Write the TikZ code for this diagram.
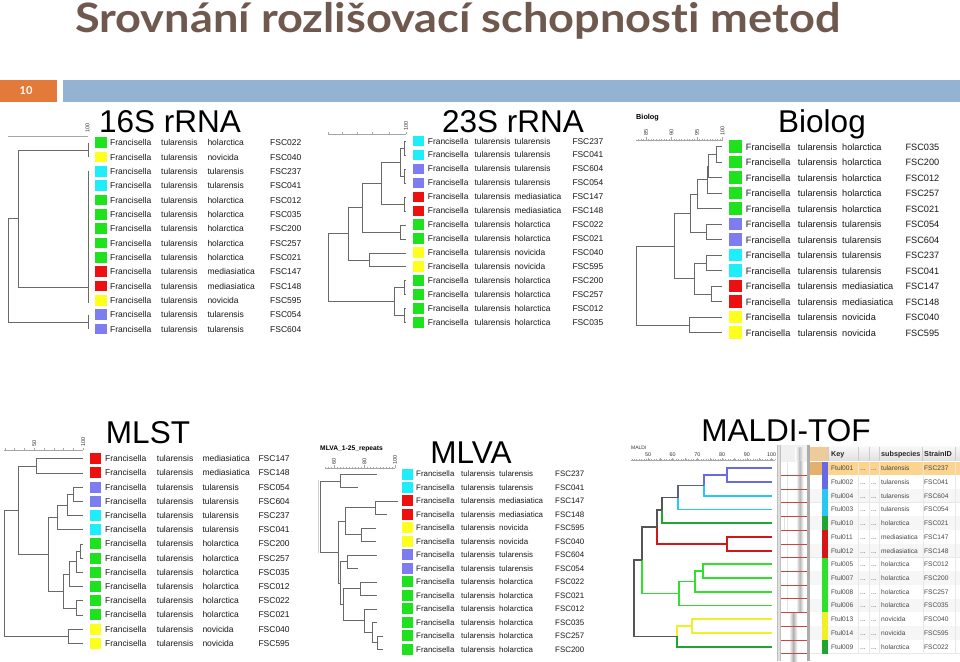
\documentclass[tikz,border=0pt]{standalone}
\usepackage{fontspec}
\setmainfont{Liberation Sans}
\newfontfamily\titlef{Lato}[Ligatures=NoCommon]
\usepackage{graphicx}
\definecolor{colg}{RGB}{30,226,30}
\definecolor{coly}{RGB}{255,255,30}
\definecolor{colc}{RGB}{30,238,250}
\definecolor{colb}{RGB}{125,125,240}
\definecolor{colr}{RGB}{236,16,16}
\definecolor{mtblue}{RGB}{105,105,228}
\definecolor{mtcyan}{RGB}{40,200,245}
\definecolor{mtgreen}{RGB}{45,225,45}
\definecolor{mtgtwo}{RGB}{30,165,50}
\definecolor{mtred}{RGB}{212,22,22}
\definecolor{mtyel}{RGB}{240,240,40}
\definecolor{mtgray}{RGB}{85,85,85}
\definecolor{titlec}{RGB}{111,89,78}
\definecolor{numbox}{RGB}{228,122,58}
\definecolor{barc}{RGB}{148,179,211}
\definecolor{txt}{RGB}{25,25,25}
\definecolor{ttxt}{RGB}{70,70,70}
\definecolor{treec}{RGB}{105,105,105}
\definecolor{gelred}{RGB}{200,70,70}
\definecolor{tanhead}{RGB}{238,203,155}
\definecolor{hlrow}{RGB}{251,212,142}
\definecolor{hlleft}{RGB}{228,176,108}
\newcommand\fsz[1]{\fontsize{#1}{#1}\selectfont}
\newcommand\jn[6][]{\draw[tline,#1] (#4,#3) -- (#2,#3) -- (#2,#5) -- (#6,#5);}
\newcommand\panelrows[2]{%
  \foreach \c/\s/\f [count=\i from 0] in {#2}{%
    \pgfmathsetmacro\yy{\Ry+\i*\Rd}%
    \pgfmathsetmacro\yb{\yy+0.36*\Fs}%
    \fill[col\c] (\SQx,\yy-\SQh/2) rectangle ++(\SQw,\SQh);
    \node[lbl,anchor=base west] (#1-\i-a) at (\Ca,\yb) {Francisella};
    \node[lbl,anchor=base west] (#1-\i-b) at (\Cb,\yb) {tularensis};
    \node[lbl,anchor=base west] (#1-\i-c) at (\Cc,\yb) {\s};
    \node[lbl,anchor=base west] (#1-\i-d) at (\Cd,\yb) {\f};
  }}
\tikzset{
  lbl/.style={font=\fsz{\Fs}, inner sep=0pt, text=txt},
  tline/.style={draw=treec, line width=0.6pt},
  mline/.style={line width=1.8pt},
  sline/.style={draw=gray!70, line width=0.5pt},
  slab/.style={font=\fsz{5.5}, inner sep=0pt, rotate=90, anchor=west, text=black!80},
  head/.style={font=\fsz{31.5}, inner sep=0pt, anchor=base, text=black},
  tcell/.style={font=\fsz{6.6}, inner sep=0pt, anchor=base west, text=ttxt},
  thead/.style={font=\fsz{7.2}\bfseries, inner sep=0pt, anchor=base west, text=black!85},
}
\begin{document}
\begin{tikzpicture}[x=1pt,y=-1pt]
\useasboundingbox (0,0) rectangle (960,661);
\fill[white] (0,0) rectangle (960,661);

% ---------- header ----------
\node[anchor=base west, inner sep=0pt, text=titlec, font=\titlef\bfseries\fsz{40.5}] (title) at (75,32.5)
  {\resizebox{765pt}{\height}{Srovnání rozlišovací schopnost\kern0pt{}i metod}};
\fill[numbox] (0,80) rectangle (57,102);
\node[font=\titlef\bfseries\fsz{11}, text=white, inner sep=0pt] (num) at (26,91) {10};
\fill[barc] (63,80) rectangle (960,102);

% ---------- headings ----------
\node[head] (h16) at (170,132) {16S rRNA};
\node[head] (h23) at (513,132) {23S rRNA};
\node[head] (hbi) at (822,132) {Biolog};
\node[head] (hml) at (148,443) {MLST};
\node[head] (hmv) at (471,463) {MLVA};
\node[head] (hma) at (786,441.7) {MALDI-TOF};

% ---------- 16S ----------
\def\SQx{95}\def\SQw{11.5}\def\SQh{10.7}\def\Ry{142.7}\def\Rd{14.33}
\def\Ca{110}\def\Cb{161}\def\Cc{207.3}\def\Cd{270}\def\Fs{8.5}
\panelrows{A}{g/holarctica/FSC022, y/novicida/FSC040, c/tularensis/FSC237, c/tularensis/FSC041,
 g/holarctica/FSC012, g/holarctica/FSC035, g/holarctica/FSC200, g/holarctica/FSC257, g/holarctica/FSC021,
 r/mediasiatica/FSC147, r/mediasiatica/FSC148, y/novicida/FSC595, b/tularensis/FSC054, b/tularensis/FSC604}
\draw[sline] (8,136) -- (88,136);
\node[slab] (s16) at (87.5,132.5) {100};
\draw[tline] (88,142.7) -- (88,157.0);
\draw[tline] (88,170.5) -- (88,303);
\draw[tline] (88,314.7) -- (88,329.0);
\jn{18.3}{149.9}{88}{287}{88}
\jn{8.3}{218.5}{18.3}{321.9}{88}

% ---------- 23S ----------
\def\SQx{413.3}\def\SQw{10.7}\def\SQh{10.7}\def\Ry{141}\def\Rd{13.97}
\def\Ca{427.7}\def\Cb{474.3}\def\Cc{514.3}\def\Cd{572.3}\def\Fs{8.4}
\panelrows{B}{c/tularensis/FSC237, c/tularensis/FSC041, b/tularensis/FSC604, b/tularensis/FSC054,
 r/mediasiatica/FSC147, r/mediasiatica/FSC148, g/holarctica/FSC022, g/holarctica/FSC021,
 y/novicida/FSC040, y/novicida/FSC595, g/holarctica/FSC200, g/holarctica/FSC257, g/holarctica/FSC012, g/holarctica/FSC035}
\draw[sline] (328,134) -- (406,134);
\foreach \t in {328,342,357,372.7,389,406} \draw[sline] (\t,134) -- ++(0,-1.8);
\node[slab] (s23) at (406,130.5) {100};
\jn{404}{141.0}{406}{155.0}{406}
\jn{404}{168.9}{406}{182.9}{406}
\jn{400.3}{148}{404}{175.9}{404}
\jn{404}{196.9}{406}{210.9}{406}
\jn{381.3}{162}{400.3}{203.9}{404}
\jn{400.3}{224.8}{406}{238.8}{406}
\jn{362}{183}{381.3}{231.8}{400.3}
\jn{369.7}{252.8}{406}{266.7}{406}
\jn{348.7}{207.4}{362}{259.8}{369.7}
\jn{404}{280.7}{406}{294.7}{406}
\jn{404}{308.6}{406}{322.6}{406}
\jn{394.7}{287.7}{404}{315.6}{404}
\jn{328}{233.6}{348.7}{301.7}{394.7}

% ---------- Biolog ----------
\def\SQx{729.3}\def\SQw{12.4}\def\SQh{12.5}\def\Ry{146.7}\def\Rd{15.5}
\def\Ca{745.7}\def\Cb{797.7}\def\Cc{842}\def\Cd{905.3}\def\Fs{9.2}
\panelrows{C}{g/holarctica/FSC035, g/holarctica/FSC200, g/holarctica/FSC012, g/holarctica/FSC257, g/holarctica/FSC021,
 b/tularensis/FSC054, b/tularensis/FSC604, c/tularensis/FSC237, c/tularensis/FSC041,
 r/mediasiatica/FSC147, r/mediasiatica/FSC148, y/novicida/FSC040, y/novicida/FSC595}
\node[font=\fsz{7.3}\bfseries, inner sep=0pt, anchor=base west] (lbi) at (636,119.5) {Biolog};
\draw[sline] (636,140) -- (722.5,140);
\foreach \k in {0,...,33} \draw[sline] ({722.5-\k*2.55},140) -- ++(0,-1.5);
\foreach \v/\xx in {85/646,90/671.5,95/697,100/722.5} {
  \draw[sline] (\xx,140) -- ++(0,-3);
  \node[slab] at (\xx,136) {\v};}
\jn{716.7}{146.7}{721.7}{162.2}{721.7}
\jn{708.5}{154.5}{716.7}{177.7}{721.7}
\jn{707.2}{166.1}{708.5}{193.2}{721.7}
\jn{697.3}{179.7}{707.2}{208.7}{721.7}
\jn{706}{224.2}{721.7}{239.7}{721.7}
\jn{690.7}{194.2}{697.3}{232}{706}
\jn{706}{255.2}{721.7}{270.7}{721.7}
\jn{711}{286.2}{721.7}{301.7}{721.7}
\jn{694.3}{263}{706}{294}{711}
\jn{674.3}{213.1}{690.7}{278.5}{694.3}
\jn{689}{317.2}{721.7}{332.7}{721.7}
\jn{636}{245.8}{674.3}{325}{689}

% ---------- MLST ----------
\def\SQx{90}\def\SQw{11}\def\SQh{11}\def\Ry{458.7}\def\Rd{14.2}
\def\Ca{105}\def\Cb{156.7}\def\Cc{202.3}\def\Cd{258.3}\def\Fs{8.5}
\panelrows{D}{r/mediasiatica/FSC147, r/mediasiatica/FSC148, b/tularensis/FSC054, b/tularensis/FSC604,
 c/tularensis/FSC237, c/tularensis/FSC041, g/holarctica/FSC200, g/holarctica/FSC257, g/holarctica/FSC035,
 g/holarctica/FSC012, g/holarctica/FSC022, g/holarctica/FSC021, y/novicida/FSC040, y/novicida/FSC595}
\draw[sline] (4,450) -- (83.3,450);
\foreach \k in {0,...,8} \draw[sline] ({83.3-\k*9.8},450) -- ++(0,-2);
\node[slab] (s50) at (34.3,446.5) {50};
\node[slab] (s100) at (83.3,446.5) {100};
\jn{36}{458.7}{82.7}{472.9}{82.7}
\jn{73.3}{487.1}{82.7}{501.3}{82.7}
\jn{67.3}{494.2}{73.3}{515.5}{82.7}
\jn{57.7}{504.9}{67.3}{529.7}{82.7}
\jn{80}{543.9}{82.7}{558.1}{82.7}
\jn{76.7}{551}{80}{572.3}{82.7}
\jn{69.3}{561.7}{76.7}{586.5}{82.7}
\jn{76}{600.7}{82.7}{614.9}{82.7}
\jn{63.3}{574.1}{69.3}{607.8}{76}
\jn{48.3}{517.3}{57.7}{591}{63.3}
\jn{18.3}{465.8}{36}{554.2}{48.3}
\jn{68.3}{629.1}{82.7}{643.3}{82.7}
\jn{4}{510}{18.3}{636.2}{68.3}
\draw[gray!35, line width=0.5pt] (318.5,480) -- (318.5,553);

% ---------- MLVA ----------
\def\SQx{401.7}\def\SQw{11}\def\SQh{11}\def\Ry{474}\def\Rd{13.48}
\def\Ca{416}\def\Cb{461}\def\Cc{499}\def\Cd{555}\def\Fs{7.9}
\panelrows{E}{c/tularensis/FSC237, c/tularensis/FSC041, r/mediasiatica/FSC147, r/mediasiatica/FSC148,
 y/novicida/FSC595, y/novicida/FSC040, b/tularensis/FSC604, b/tularensis/FSC054,
 g/holarctica/FSC022, g/holarctica/FSC021, g/holarctica/FSC012, g/holarctica/FSC035, g/holarctica/FSC257, g/holarctica/FSC200}
\node[font=\fsz{6.7}\bfseries, inner sep=0pt, anchor=base west] (lmv) at (320,450) {MLVA\_1-25\_repeats};
\draw[sline] (325,468) -- (395,468);
\foreach \k in {0,...,23} \draw[sline] ({395-\k*3.05},468) -- ++(0,-1.5);
\foreach \v/\xx in {60/334,80/364.5,100/395} {
  \draw[sline] (\xx,468) -- ++(0,-3);
  \node[slab] at (\xx,464.5) {\v};}
\jn{340}{474.0}{376.7}{487.5}{358.3}
\jn{375}{501.0}{398.3}{514.4}{386.7}
\jn{361.7}{527.9}{376}{541.4}{376}
\jn{345}{507.7}{375}{534.7}{361.7}
\jn{347.7}{554.9}{376.7}{568.4}{357.7}
\jn{360}{581.8}{376.7}{595.3}{376.7}
\jn{377.7}{635.8}{383.3}{649.2}{383.3}
\jn{372.3}{622.3}{376.7}{642.5}{377.7}
\jn{364.3}{608.8}{376.7}{632.4}{372.3}
\jn{343.3}{588.6}{360}{620.6}{364.3}
\jn{340}{561.7}{347.7}{604.6}{343.3}
\jn{338.3}{521.2}{345}{583.2}{340}
\jn{320}{480.8}{340}{552.2}{338.3}

% ---------- MALDI-TOF ----------
\node[font=\fsz{5}, inner sep=0pt, anchor=base west, text=black!80] (lma) at (631,449) {MALDI};
\draw[sline] (631,460) -- (775,460);
\foreach \k in {0,...,58} \draw[sline] ({775-\k*2.47},460) -- ++(0,-1.2);
\foreach \v [count=\j from 0] in {50,60,70,80,90,100} {
  \draw[sline] ({648+\j*24.7},460) -- ++(0,-2.5);
  \draw[sline] ({660.35+\j*24.7},460) -- ++(0,-2.5);
  \node[font=\fsz{5.4}, inner sep=0pt, text=black!80] at ({648+\j*24.7},455) {\v};}
% tree
\jn[mline,draw=mtblue]{726.7}{468.3}{771.7}{482.0}{771.7}
\draw[mline,draw=mtblue] (726.7,475.2) -- (704.3,475.2) -- (704.3,485.4);
\draw[mline,draw=mtcyan] (704.3,485.4) -- (704.3,495.7) -- (771.7,495.7);
\draw[mline,draw=mtgray!55!mtblue] (704.3,485.4) -- (677.7,485.4) -- (677.7,497.5);
\draw[mline,draw=mtcyan] (677.7,497.5) -- (677.7,509.5) -- (771.7,509.5);
\draw[mline,draw=mtgray] (677.7,497.5) -- (661.7,497.5) -- (661.7,510.3);
\draw[mline,draw=mtgtwo] (661.7,510.3) -- (661.7,523.2) -- (771.7,523.2);
\jn[mline,draw=mtred]{726.7}{536.9}{771.7}{550.6}{771.7}
\draw[mline,draw=mtgray] (661.7,510.3) -- (657.3,510.3) -- (657.3,527);
\draw[mline,draw=mtred] (657.3,527) -- (657.3,543.8) -- (726.7,543.8);
\jn[mline,draw=mtgreen]{702.7}{564.3}{771.7}{578.1}{771.7}
\jn[mline,draw=mtgreen]{695}{571.2}{702.7}{591.8}{771.7}
\jn[mline,draw=mtgreen]{679.3}{581.5}{695}{605.5}{771.7}
\draw[mline,draw=mtgray] (657.3,527) -- (641.7,527) -- (641.7,560.2);
\draw[mline,draw=mtgreen] (641.7,560.2) -- (641.7,593.5) -- (679.3,593.5);
\jn[mline,draw=mtyel]{691.7}{619.2}{771.7}{632.9}{771.7}
\draw[mline,draw=mtyel] (691.7,626) -- (676.7,626) -- (676.7,636.4);
\draw[mline,draw=mtgtwo] (676.7,636.4) -- (676.7,646.7) -- (771.7,646.7);
\draw[mline,draw=mtgray] (641.7,560.2) -- (634.3,560.2) -- (634.3,636.4) -- (676.7,636.4);
% gel lanes
\fill[gray!50] (776.7,445) rectangle (781,661);
\fill[gray!25] (778,445) rectangle (779.5,661);
\fill[gray!12] (781,445) rectangle (806.7,661);
\fill[white] (781,461.5) rectangle (806.7,661);
\shade[left color=white, right color=gray!45] (795,447) rectangle (799.5,460);
\shade[left color=gray!45, right color=white] (799.5,447) rectangle (804,460);
\shade[left color=white, right color=gray!55] (796,461.5) rectangle (799.8,612);
\shade[left color=gray!55, right color=white] (799.8,461.5) rectangle (803.5,612);
\shade[left color=white, right color=gray!60] (789,612) rectangle (793.2,661);
\shade[left color=gray!60, right color=white] (793.2,612) rectangle (797.5,661);
\fill[gray!25] (784,516.5) rectangle (785,530);
\fill[gray!20] (786.5,461.5) rectangle (787.3,612);
\foreach \i in {1,...,14} \draw[draw=gelred, line width=0.6pt]
  (781,{461.5+\i*13.72}) -- (806.7,{461.5+\i*13.72});
\fill[gray!65] (806.7,445) rectangle (810,661);
% table header
\shade[top color=gray!6, bottom color=gray!24] (810,446.7) rectangle (960,460.5);
\fill[tanhead] (810,446.7) rectangle (828.3,460.5);
\foreach \xx in {828.3,858.3,869.3,879,922.7,955} \draw[gray!40, line width=0.5pt] (\xx,446.7) -- (\xx,460.5);
\node[thead] (tk) at (831,456.3) {Key};
\node[thead] (ts) at (881,456.3) {subspecies};
\node[thead] (ti) at (924,456.3) {StrainID};
% table rows
\foreach \col/\k/\s/\f [count=\i from 0] in {mtblue/001/tularensis/FSC237, mtblue/002/tularensis/FSC041,
  mtcyan/004/tularensis/FSC604, mtcyan/003/tularensis/FSC054, mtgtwo/010/holarctica/FSC021,
  mtred/011/mediasiatica/FSC147, mtred/012/mediasiatica/FSC148, mtgreen/005/holarctica/FSC012,
  mtgreen/007/holarctica/FSC200, mtgreen/008/holarctica/FSC257, mtgreen/006/holarctica/FSC035,
  mtyel/013/novicida/FSC040, mtyel/014/novicida/FSC595, mtgtwo/009/holarctica/FSC022} {
  \pgfmathsetmacro\rowt{461.5+\i*13.72}
  \pgfmathsetmacro\rowb{\rowt+13.72}
  \pgfmathsetmacro\rowl{\rowt+9.2}
  \ifnum\i=0
    \fill[hlrow] (810,\rowt) rectangle (960,\rowb);
    \fill[hlleft] (810,\rowt) rectangle (821.7,\rowb);
  \else
    \ifodd\i \fill[white] (810,\rowt) rectangle (960,\rowb);
    \else \fill[gray!7] (810,\rowt) rectangle (960,\rowb); \fi
  \fi
  \draw[gray!18, line width=0.4pt] (810,\rowb) -- (960,\rowb);
  \foreach \xx in {858.3,869.3,879,922.7,955} \draw[gray!18, line width=0.4pt] (\xx,\rowt) -- (\xx,\rowb);
  \fill[\col] (821.7,\rowt) rectangle (828.3,\rowb);
  \node[tcell] (k\i) at (831,\rowl) {Ftul\k};
  \node[tcell] (d\i) at (860,\rowl) {...};
  \node[tcell] (e\i) at (871,\rowl) {...};
  \node[tcell] (u\i) at (881,\rowl) {\s};
  \node[tcell] (f\i) at (924,\rowl) {\f};
}
\end{tikzpicture}
\end{document}
